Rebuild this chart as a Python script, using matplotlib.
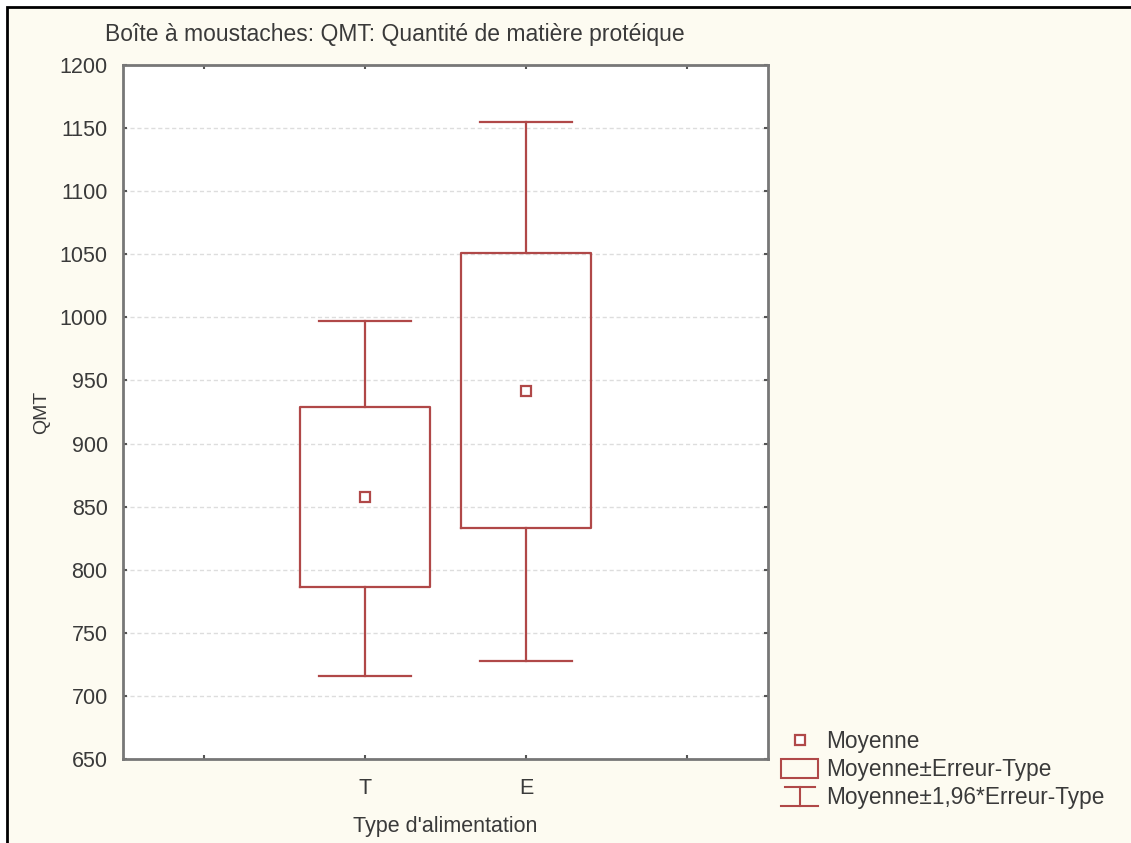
import matplotlib
matplotlib.use("Agg")
from matplotlib import pyplot as plt
from matplotlib.lines import Line2D
from matplotlib.patches import Rectangle
from matplotlib.legend_handler import HandlerBase

categories = ['T', 'E']
means = [858, 942]
box_low = [786, 833]
box_high = [929, 1051]
whisk_low = [716, 728]
whisk_high = [997, 1155]

red = '#b04848'
bg = '#fdfbf1'
txt = '#3a3a3a'
fs = 15.5

plt.rcParams['font.family'] = ['Liberation Sans', 'DejaVu Sans']


class BoxHandler(HandlerBase):
    def create_artists(self, legend, orig, xd, yd, w, h, fontsize, trans):
        r = Rectangle((xd, yd - 0.1 * h), w, h * 1.2, fill=False,
                      edgecolor=red, lw=1.5, transform=trans)
        return [r]


class WhiskerHandler(HandlerBase):
    def create_artists(self, legend, orig, xd, yd, w, h, fontsize, trans):
        cx = xd + w / 2
        top = Line2D([xd + 0.1 * w, xd + 0.9 * w], [yd + 1.1 * h] * 2, color=red, lw=1.5)
        bot = Line2D([xd, xd + w], [yd - 0.15 * h] * 2, color=red, lw=1.5)
        mid = Line2D([cx, cx], [yd - 0.15 * h, yd + 1.1 * h], color=red, lw=1.5)
        for a in (top, bot, mid):
            a.set_transform(trans)
        return [top, bot, mid]


fig = plt.figure(figsize=(11.31, 8.43), dpi=100)
fig.patch.set_facecolor('white')
fig.patches.append(Rectangle((7 / 1131, -0.05), 1.05, 1 - 7 / 843 + 0.05,
                             transform=fig.transFigure, facecolor=bg,
                             edgecolor='black', lw=2, zorder=-1))

ax = fig.add_axes([123 / 1131, 1 - 759 / 843, 645 / 1131, 694 / 843])
ax.set_facecolor('white')

stats = []
for i, c in enumerate(categories):
    stats.append(dict(label=c, mean=means[i], med=means[i],
                      q1=box_low[i], q3=box_high[i],
                      whislo=whisk_low[i], whishi=whisk_high[i], fliers=[]))

positions = [1, 2]
ax.bxp(stats, positions=positions, widths=0.81, capwidths=0.57,
       showmeans=True, showfliers=False,
       boxprops=dict(color=red, lw=1.6),
       whiskerprops=dict(color=red, lw=1.6),
       capprops=dict(color=red, lw=1.6),
       medianprops=dict(visible=False),
       meanprops=dict(marker='s', markersize=7, markerfacecolor='white',
                      markeredgecolor=red, markeredgewidth=1.6))

ax.set_xlim(-0.5, 3.5)
ax.set_ylim(650, 1200)
ax.set_yticks(range(650, 1201, 50))
ax.set_xticks([0, 1, 2, 3])
ax.set_xticklabels(['', 'T', 'E', ''])
ax.tick_params(direction='in', length=3, width=1.5, colors='#555555',
               labelcolor=txt, labelsize=fs, top=True, right=True)
ax.tick_params(axis='y', pad=11)
ax.tick_params(axis='x', pad=14)
for s in ax.spines.values():
    s.set_color('#777777')
    s.set_linewidth(2)
ax.yaxis.grid(True, linestyle=(0, (3, 2)), color='#dddddd', lw=1)
ax.set_axisbelow(True)

ax.set_xlabel("Type d'alimentation", fontsize=fs, color=txt, labelpad=12)
ax.set_ylabel('QMT', fontsize=14, color=txt, labelpad=7)
fig.text(105 / 1131, 1 - 35 / 843, 'Boîte à moustaches: QMT: Quantité de matière protéique',
         fontsize=16.5, color=txt, ha='left', va='center')

handles = [Line2D([], [], ls='none', marker='s', markersize=7, markerfacecolor='white',
                  markeredgecolor=red, markeredgewidth=1.6),
           Rectangle((0, 0), 1, 1), Line2D([], [])]
labels = ['Moyenne', 'Moyenne±Erreur-Type', 'Moyenne±1,96*Erreur-Type']
hmap = {handles[1]: BoxHandler(), handles[2]: WhiskerHandler()}
fig.legend(handles, labels, handler_map=hmap, loc='upper left',
           bbox_to_anchor=(781 / 1131, 1 - 730 / 843), frameon=False,
           fontsize=16.3, labelcolor=txt, handlelength=1.65, handletextpad=0.35,
           labelspacing=0.22, borderpad=0, borderaxespad=0)

fig.savefig('out.png', dpi=100, facecolor=fig.get_facecolor())
